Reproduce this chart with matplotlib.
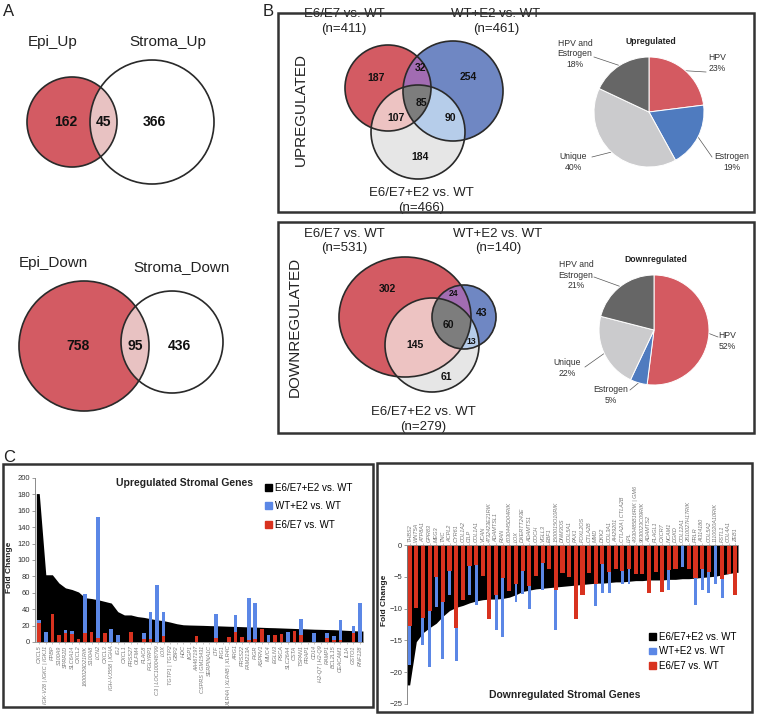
import numpy as np
import matplotlib
matplotlib.use("Agg")
import matplotlib.pyplot as plt
from matplotlib.patches import Ellipse, Rectangle, Patch
from matplotlib.colors import to_rgba

plt.rcParams['font.family'] = ['Liberation Sans', 'DejaVu Sans']

# ---------------- data ----------------
# panel A: [epi only, shared, stroma only]
a_up_counts = [162, 45, 366]
a_down_counts = [758, 95, 436]
a_up_names = ["Epi_Up", "Stroma_Up"]
a_down_names = ["Epi_Down", "Stroma_Down"]

# panel B venn regions: E6/E7 only, E6/E7&WT+E2, WT+E2 only, all three,
# E6/E7&E6/E7+E2, WT+E2&E6/E7+E2, E6/E7+E2 only
venn_up_counts = [187, 32, 254, 85, 107, 90, 184]
venn_down_counts = [302, 24, 43, 60, 145, 13, 61]
venn_sets = ["E6/E7 vs. WT", "WT+E2 vs. WT", "E6/E7+E2 vs. WT"]
venn_up_n = [411, 461, 466]
venn_down_n = [531, 140, 279]

pie_labels = ["HPV", "Estrogen", "Unique", "HPV and\nEstrogen"]
pie_up = [23, 19, 40, 18]
pie_down = [52, 5, 22, 21]

# panel C
series_names = ["E6/E7+E2 vs. WT", "WT+E2 vs. WT", "E6/E7 vs. WT"]
up_genes = ["CXCL5", "IGK-V28 | IGKC | IGKJ1", "PPBP", "S100A9", "SPRR2D", "SLC6A14", "CXCL2",
            "1600029D21RIK", "S100A8", "LCN2", "CXCL3", "IGH-VJ558 | IGHA", "IGJ", "CXCL1",
            "PRSS27", "OLFM4", "PLAC8", "PGLYRP1", "C3 | LOC100048799", "LOX", "TGTP1 | TGTP2",
            "GBP2", "HDC", "IIGP1", "AA467197", "CSPRS | GM15431", "SERPINA1C", "LTF", "IRG1",
            "XLR4A | XLR4B | XLR4C", "ARG1", "PRSS22", "FAM213A", "PIGR", "ASPRV1", "MUC4",
            "EGLN3", "PSCA", "SLC26A4", "CSTA", "TSPAN1", "PRAP1", "CD14", "H2-Q7 | H2-Q9",
            "RAMP1", "BCL2L15", "CEACAM1", "IL1A", "GSTO1", "RNF128"]
up_e6e7_e2 = [181, 82, 82, 72, 66, 64, 61, 54, 53, 51.5, 49.5, 47.5, 37, 33, 33, 31, 30, 28.4,
              27, 26, 24.3, 22.3, 21, 20.7, 20.5, 20.3, 20, 19.8, 19.5, 19.2, 19, 18.7, 18.4,
              18.2, 17.9, 17.6, 17.4, 17.1, 16.8, 16.5, 16.2, 15.9, 15.6, 15.4, 15.2, 15,
              14.6, 14.2, 13.8, 13.4]
up_wt_e2 = [27, 12, 0, 0, 14.6, 14, 0, 58, 0, 152, 0, 16, 9, 0, 0, 0, 11, 36, 69, 36.5,
            0, 0, 0, 0, 0, 0, 0, 34, 0, 0, 33, 0, 54, 47, 0, 8, 0, 0, 12, 0,
            28, 0, 11, 0, 11, 7, 27, 0, 19, 47]
up_e6e7 = [23, 0, 34, 8, 11, 10, 4, 11, 12, 5, 11, 0, 0, 0, 12.5, 0, 4, 4, 0, 7,
           0, 0, 0, 0, 7.3, 0, 0, 5, 0, 5.7, 12, 6, 3, 4, 16, 0, 9, 10, 0, 13.4,
           9, 0, 0, 0, 5, 3, 3, 0, 11, 0]

dn_genes = ["THBS2", "WNT5A", "ATP8A1", "GPR83", "MEG3", "TNC", "ACPL2", "CYR61", "COL1A2",
            "CILP", "COL1A1", "VCAN", "4732423E21RIK", "ADAMTSL1", "RIAN", "6030445D04RIK",
            "LOX", "DXERTT243E", "ADAMTS1", "COCH", "VGLL3", "EBF1", "1500015O10RIK", "DNM3OS",
            "COL5A1", "PAX1", "FOXL2OS", "CTLA2B", "MMD", "DKK2", "COL3A1", "AI429201",
            "CTLA2A | CTLA2B", "LPL", "4930485B16RIK | GM6", "9630023C09RIK", "ADAMTS2",
            "PLAGL1", "CXCR7", "NCAM1", "DGKD", "COL12A1", "2610027H17RIK", "PRLR", "AI314180",
            "COL5A2", "1110020A10RIK", "FSTL1", "COL4A1", "ZEB1"]
dn_e6e7_e2 = [-22, -15.2, -13.8, -13, -12.3, -11.2, -10.3, -9.8, -9.5, -9.1, -8.8, -8.6, -8.5,
              -8.5, -8.4, -8.2, -7.8, -7.3, -7.1, -6.9, -6.8, -6.7, -6.6, -6.5, -6.4, -6.3,
              -6.2, -6.1, -6.0, -6.0, -5.9, -5.8, -5.8, -5.7, -5.6, -5.6, -5.5, -5.5, -5.5,
              -5.4, -5.4, -5.3, -5.3, -5.2, -5.1, -5.0, -4.9, -4.7, -4.5, -4.3]
dn_wt_e2 = [-18.9, 0, -15.7, -19.2, -9.7, -18, -7.9, -18.3, 0, -7.9, -9.5, 0, 0, -13.3, -14.4,
            0, -9, -7.7, -10, 0, -7.1, 0, -13.3, 0, 0, 0, 0, 0, -9.6, -7.5, -7.5, 0, -6.2,
            -6.2, 0, 0, 0, 0, 0, -7.1, 0, -3.4, 0, -9.4, -7.1, -7.5, -6.1, -8.4, 0, 0]
dn_e6e7 = [-12.8, -9.9, -11.5, -10.3, -5.1, -9, -4.1, -13.1, -8.6, -3.3, -3.2, -4.9, -11.6,
           -7.9, -5.2, -7.3, -6.1, -4.1, -6.5, -4.9, -2.9, -3.7, -7.1, -4.4, -5, -11.7, -7.8,
           -4.4, -6.2, -3, -4.2, -3.8, -4.1, -3.8, -4.5, -4.5, -7.5, -4.2, -7.4, -3.9, -3.8,
           0, -3.7, -5.2, -3.8, -4.2, 0, -5.4, -4.5, -7.9]

# ---------------- style ----------------
W, H = 757, 715
RED_V, BLUE_V = "#d35b63", "#6f88c4"
REGION_COLORS = {1: RED_V, 2: BLUE_V, 4: "#e6e6e6", 3: "#a26cb2", 5: "#edc4c2",
                 6: "#b6cdea", 7: "#7d7d7d"}
PIE_COLORS = ["#d45a61", "#4f7bbf", "#cbcbcd", "#666666"]
BAR_BLUE, BAR_RED = "#5b87e6", "#d8321f"
TXT = "#222222"

fig = plt.figure(figsize=(W / 100, H / 100), dpi=100)
base = fig.add_axes([0, 0, 1, 1])
base.set_xlim(0, W); base.set_ylim(H, 0); base.axis("off"); base.set_autoscale_on(False)


def venn(shapes, colors, step=0.25):
    xs0 = min(c[0] - c[2] for c in shapes) - 2; xs1 = max(c[0] + c[2] for c in shapes) + 2
    ys0 = min(c[1] - c[3] for c in shapes) - 2; ys1 = max(c[1] + c[3] for c in shapes) + 2
    X, Y = np.meshgrid(np.arange(xs0, xs1, step), np.arange(ys0, ys1, step))
    code = np.zeros(X.shape, int)
    for k, (cx, cy, rx, ry) in enumerate(shapes):
        code |= ((((X - cx) / rx) ** 2 + ((Y - cy) / ry) ** 2) <= 1).astype(int) << k
    img = np.zeros(X.shape + (4,))
    for c, col in colors.items():
        img[code == c] = to_rgba(col)
    base.imshow(img, extent=(xs0, xs1, ys1, ys0), interpolation="antialiased",
                aspect="auto", zorder=1)
    for cx, cy, rx, ry in shapes:
        base.add_patch(Ellipse((cx, cy), 2 * rx, 2 * ry, fill=False, ec="#2a2a2a", lw=1.2, zorder=2))


def numbers(vals, pos, size=7.5, small=()):
    for i, (v, (px, py)) in enumerate(zip(vals, pos)):
        base.text(px, py, str(v), ha="center", va="center", fontsize=6.2 if i in small else size,
                  fontweight="bold", color="#111", zorder=3)


# ---------------- panel A ----------------
base.text(3, 12, "A", fontsize=12, va="center", color=TXT)
a_cols = {1: RED_V, 2: "white", 3: "#e9c3c3"}
venn([(72, 122, 45, 45), (152, 122, 62, 62)], a_cols)
numbers(a_up_counts, [(66, 122), (103, 122), (154, 122)], size=10)
base.text(53, 42, a_up_names[0], fontsize=11, ha="center", va="center", color=TXT)
base.text(168, 42, a_up_names[1], fontsize=11, ha="center", va="center", color=TXT)

venn([(84, 346, 65, 65), (172, 342, 51, 51)], a_cols)
numbers(a_down_counts, [(78, 346), (135, 346), (179, 346)], size=10)
base.text(53, 263, a_down_names[0], fontsize=11, ha="center", va="center", color=TXT)
base.text(182, 267, a_down_names[1], fontsize=11, ha="center", va="center", color=TXT)

# ---------------- panel B ----------------
base.text(263, 12, "B", fontsize=12, va="center", color=TXT)
for y0, y1 in [(13, 212), (222, 433)]:
    base.add_patch(Rectangle((278, y0), 476, y1 - y0, fill=False, ec="#333", lw=1.8, zorder=4))

venn([(388, 88, 43, 43), (453, 91, 50, 50), (418, 132, 47, 47)], REGION_COLORS)
numbers(venn_up_counts, [(376, 78), (421, 68), (468, 77), (421, 103), (396, 118), (450, 118), (420, 157)])
for name, n, (px, py) in zip(venn_sets, venn_up_n, [(344, 21.5), (496, 21.5), (421, 200.5)]):
    base.text(px, py, f"{name}\n(n={n})", fontsize=9.5, ha="center", va="center",
              linespacing=1.25, color=TXT)
base.text(301, 110, "UPREGULATED", rotation=90, fontsize=11, ha="center", va="center", color=TXT)

venn([(405, 317, 66, 60), (464, 317, 32, 32), (432, 345, 47, 47)], REGION_COLORS)
numbers(venn_down_counts, [(387, 289), (454, 294), (482, 313), (448, 325), (415, 345), (471, 342), (446, 377)],
        small=(1, 5))
for name, n, (px, py) in zip(venn_sets, venn_down_n, [(344, 241), (498, 241), (423, 419.5)]):
    base.text(px, py, f"{name}\n(n={n})", fontsize=9.5, ha="center", va="center",
              linespacing=1.25, color=TXT)
base.text(295, 327, "DOWNREGULATED", rotation=90, fontsize=11, ha="center", va="center", color=TXT)


def pie(values, center, r, title, title_y, label_pos, line_start):
    cx, cy = center
    ax = fig.add_axes([(cx - r) / W, 1 - (cy + r) / H, 2 * r / W, 2 * r / H])
    wedges, _ = ax.pie(values, colors=PIE_COLORS, startangle=90, counterclock=False,
                       wedgeprops=dict(edgecolor="white", linewidth=0.7))
    ax.set_xlim(-1, 1); ax.set_ylim(-1, 1)
    base.text(cx + 2, title_y, title, fontsize=6.2, fontweight="bold", ha="center", va="center", color=TXT)
    for w, lab, v, (tx, ty), (sx, sy) in zip(wedges, pie_labels, values, label_pos, line_start):
        mid = np.radians((w.theta1 + w.theta2) / 2)
        ex, ey = cx + r * np.cos(mid), cy - r * np.sin(mid)
        base.plot([sx, ex], [sy, ey], color="#555", lw=0.5, zorder=3)
        base.text(tx, ty, f"{lab}\n{v}%", fontsize=6.2, ha="center", va="center",
                  linespacing=1.15, color="#333")


pie(pie_up, (649, 112), 55, "Upregulated", 41,
    [(717, 63), (732, 162), (573, 162), (575, 54)],
    [(706, 72), (712, 157), (592, 157), (594, 57)])
pie(pie_down, (654, 330), 55, "Downregulated", 259,
    [(727, 341), (611, 395), (567, 368), (576, 275)],
    [(718, 337), (630, 390), (585, 367), (594, 277)])

# ---------------- panel C ----------------
base.text(3, 458, "C", fontsize=12, va="center", color=TXT)
base.add_patch(Rectangle((3, 464), 370, 243, fill=False, ec="#333", lw=1.8, zorder=4))
base.add_patch(Rectangle((377, 463), 375, 249, fill=False, ec="#333", lw=1.8, zorder=4))

handles = [Patch(color=c, label=l) for c, l in zip(["black", BAR_BLUE, BAR_RED], series_names)]


def style(ax):
    for s in ["right"]:
        ax.spines[s].set_visible(False)
    ax.spines["left"].set_color("#777"); ax.spines["left"].set_linewidth(0.6)
    ax.tick_params(axis="y", labelsize=5.5, length=2, width=0.5, colors="#777", labelcolor="#333", pad=1.5)
    ax.tick_params(axis="x", labelsize=4, length=1.5, width=0.4, colors="#999", labelcolor="#777", pad=1)
    ax.patch.set_alpha(0)


# upregulated
ax = fig.add_axes([35 / W, 1 - 642 / H, (362.6 - 35) / W, (642 - 478) / H])
x = np.arange(len(up_genes))
xf = np.r_[-0.45, x, x[-1] + 0.45]
ax.fill_between(xf, np.r_[up_e6e7_e2[0], up_e6e7_e2, up_e6e7_e2[-1]], color="black", lw=0)
ax.bar(x, up_wt_e2, width=0.55, color=BAR_BLUE)
ax.bar(x, up_e6e7, width=0.55, color=BAR_RED)
ax.set_xlim(-0.65, 49.4); ax.set_ylim(0, 200)
ax.set_yticks(np.arange(0, 201, 20))
ax.set_xticks(x); ax.set_xticklabels(up_genes, rotation=90, fontstyle="italic")
style(ax)
ax.spines["top"].set_visible(False)
ax.spines["bottom"].set_color("#999"); ax.spines["bottom"].set_linewidth(0.6)
ax.legend(handles=handles, loc="upper left", bbox_to_anchor=(265 / W, 1 - 483 / H),
          bbox_transform=fig.transFigure, frameon=False, fontsize=7, handlelength=0.7,
          handleheight=0.7, handletextpad=0.3, labelspacing=0.85, borderpad=0, borderaxespad=0)
base.text(185, 483, "Upregulated Stromal Genes", fontsize=7.5, fontweight="bold", ha="center",
          va="center", color=TXT)
base.text(10, 567, "Fold Change", rotation=90, fontsize=6, fontweight="bold", ha="center",
          va="center", color=TXT)

# downregulated
ax = fig.add_axes([407 / W, 1 - 704 / H, (738 - 407) / W, (704 - 545) / H])
x = np.arange(len(dn_genes))
xf = np.r_[-0.4, x, x[-1] + 0.4]
ax.fill_between(xf, np.r_[dn_e6e7_e2[0], dn_e6e7_e2, dn_e6e7_e2[-1]], color="black", lw=0)
ax.bar(x, dn_wt_e2, width=0.45, color=BAR_BLUE)
ax.bar(x, dn_e6e7, width=0.62, color=BAR_RED)
ax.set_xlim(-0.4, 49.4); ax.set_ylim(-25, 0)
ax.set_yticks(np.arange(-25, 1, 5))
ax.xaxis.tick_top()
ax.set_xticks(x); ax.set_xticklabels(dn_genes, rotation=90, fontstyle="italic")
style(ax)
ax.spines["bottom"].set_visible(False)
ax.spines["top"].set_color("#999"); ax.spines["top"].set_linewidth(0.6)
ax.legend(handles=handles, loc="upper left", bbox_to_anchor=(649 / W, 1 - 632 / H),
          bbox_transform=fig.transFigure, frameon=False, fontsize=7, handlelength=0.7,
          handleheight=0.7, handletextpad=0.3, labelspacing=0.45, borderpad=0, borderaxespad=0)
base.text(565, 695, "Downregulated Stromal Genes", fontsize=7.5, fontweight="bold", ha="center",
          va="center", color=TXT)
base.text(384, 600, "Fold Change", rotation=90, fontsize=6, fontweight="bold", ha="center",
          va="center", color=TXT)

fig.savefig("out.png", dpi=100)
